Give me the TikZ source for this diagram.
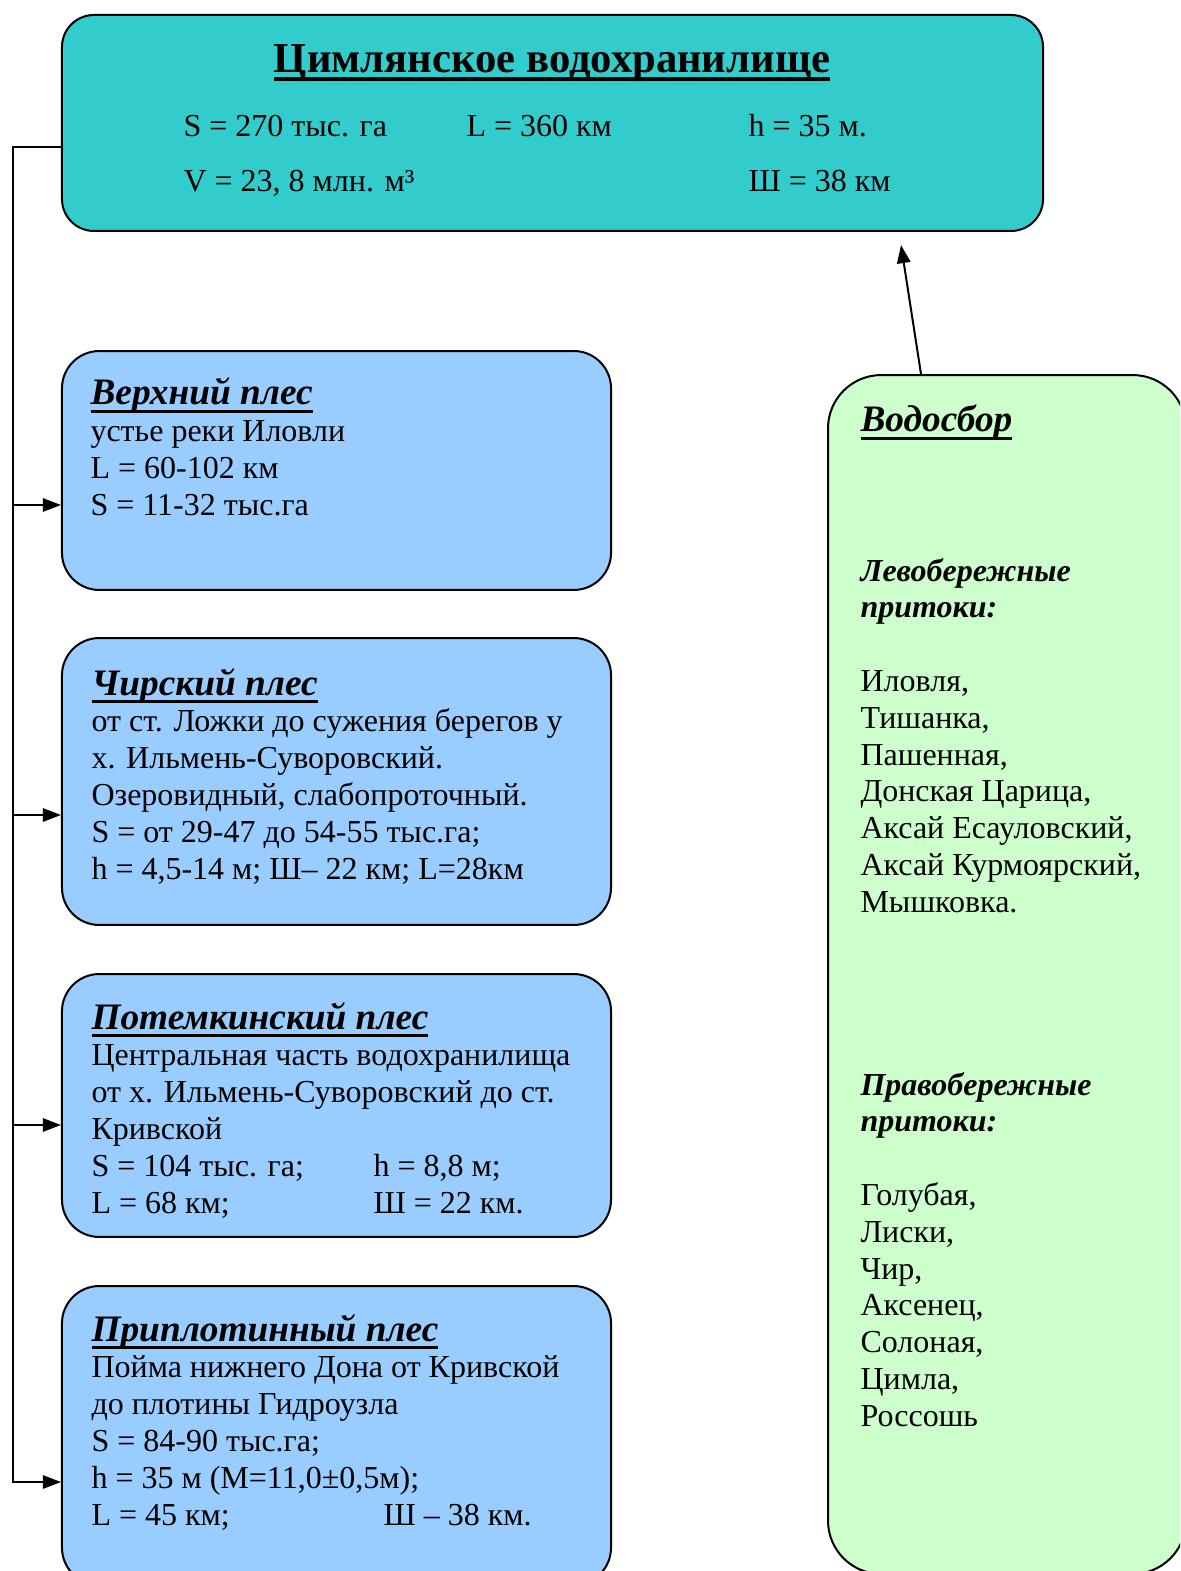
\documentclass[tikz,border=0pt]{standalone}
\usepackage{fontspec}
\setmainfont{Liberation Serif}
\usetikzlibrary{arrows.meta}
\definecolor{tealbox}{HTML}{33CCCC}
\definecolor{bluebox}{HTML}{99CCFF}
\definecolor{greenbox}{HTML}{CCFFCC}
\newsavebox\myulbox
\newcommand\myul[2][1.2pt]{\leavevmode\sbox\myulbox{#2}\rlap{\usebox\myulbox}\rule[-3pt]{\wd\myulbox}{#1}}
\newcommand\hd[1]{{\fontsize{14}{13.8}\selectfont\bfseries\itshape\myul{#1}}}
\newcommand\bi[1]{{\bfseries\itshape #1}}
\tikzset{
  box/.style={draw=black, line width=0.75pt, rectangle, inner sep=0pt},
  bluestyle/.style={box, fill=bluebox, rounded corners=14pt, minimum width=205.9pt},
  tx/.style={anchor=base west, inner sep=0pt, font=\fontsize{12}{13.8}\selectfont},
  conn/.style={line width=0.75pt},
  arr/.style={conn, -{Triangle[length=6.8pt,width=5pt]}},
}
\begin{document}
\begin{tikzpicture}[x=0.375pt,y=-0.375pt]
\clip (0,0) rectangle (1180,1571);
\fill[white] (0,0) rectangle (1180,1571);

% boxes
\node[box, fill=tealbox, rounded corners=12pt, minimum width=367.9pt, minimum height=81pt] (top) at (552.5,123) {};
\node[bluestyle, minimum height=89.6pt] (b1) at (336.5,470.5) {};
\node[bluestyle, minimum height=107.6pt] (b2) at (336.5,781.5) {};
\node[bluestyle, minimum height=98.6pt] (b3) at (336.5,1105.5) {};
\node[bluestyle, minimum height=112.1pt] (b4) at (336.5,1435.5) {};
\node[box, fill=greenbox, rounded corners=20pt, minimum width=134.25pt, minimum height=449.6pt] (g) at (1007,974.5) {};

% top box text
\node[tx, anchor=base, font=\fontsize{16}{18}\selectfont\bfseries] (title) at (552,73) {\myul[1.5pt]{Цимлянское водохранилище}};
\node[tx] (s0) at (183,137) {S = 270 тыс. га};
\node[tx] (l0) at (466,137) {L = 360 км};
\node[tx] (h0) at (748,137) {h = 35 м.};
\node[tx] (v0) at (183,192) {V = 23, 8 млн. м³};
\node[tx] (w0) at (748,192) {Ш = 38 км};

% blue box texts
\node[tx] (t1) at (90,405) {\parbox[t]{200pt}{\hd{Верхний плес}\\
устье реки Иловли\\
L = 60-102 км\\
S = 11-32 тыс.га}};
\node[tx] (t2) at (91,695) {\parbox[t]{200pt}{\hd{Чирский плес}\\
от ст. Ложки до сужения берегов у\\
х. Ильмень-Суворовский.\\
Озеровидный, слабопроточный.\\
S = от 29-47 до 54-55 тыс.га;\\
h = 4,5-14 м; Ш– 22 км; L=28км}};
\node[tx] (t3) at (91,1029) {\parbox[t]{200pt}{\hd{Потемкинский плес}\\
Центральная часть водохранилища\\
от х. Ильмень-Суворовский до ст.\\
Кривской\\
\makebox[105.75pt][l]{S = 104 тыс. га;}h = 8,8 м;\\
\makebox[105.75pt][l]{L = 68 км;}Ш = 22 км.}};
\node[tx] (t4) at (91,1341) {\parbox[t]{200pt}{\hd{Приплотинный плес}\\
Пойма нижнего Дона от Кривской\\
до плотины Гидроузла\\
S = 84-90 тыс.га;\\
h = 35 м (М=11,0±0,5м);\\
\makebox[109.5pt][l]{L = 45 км;}Ш – 38 км.}};

% green box texts
\node[tx] (gh) at (860,432) {\hd{Водосбор}};
\node[tx] (gl) at (860,581) {\parbox[t]{125pt}{\bi{Левобережные}\\
\bi{притоки:}\\[13.8pt]
Иловля,\\
Тишанка,\\
Пашенная,\\
Донская Царица,\\
Аксай Есауловский,\\
Аксай Курмоярский,\\
Мышковка.}};
\node[tx] (gr) at (860,1095) {\parbox[t]{125pt}{\bi{Правобережные}\\
\bi{притоки:}\\[13.8pt]
Голубая,\\
Лиски,\\
Чир,\\
Аксенец,\\
Солоная,\\
Цимла,\\
Россошь}};

% connectors
\coordinate (c0) at (13,147);
\coordinate (k1) at (13,505);
\coordinate (k2) at (13,815);
\coordinate (k3) at (13,1125);
\coordinate (k4) at (13,1482);
\draw[arr] (top.west |- c0) -- (c0) -- (k4) -- (k4 -| b4.west);
\draw[arr] (k1) -- (k1 -| b1.west);
\draw[arr] (k2) -- (k2 -| b2.west);
\draw[arr] (k3) -- (k3 -| b3.west);
\coordinate (ah) at (901,245);
\draw[arr] ([xshift=-32.25pt]g.north) -- (ah);
\end{tikzpicture}
\end{document}
